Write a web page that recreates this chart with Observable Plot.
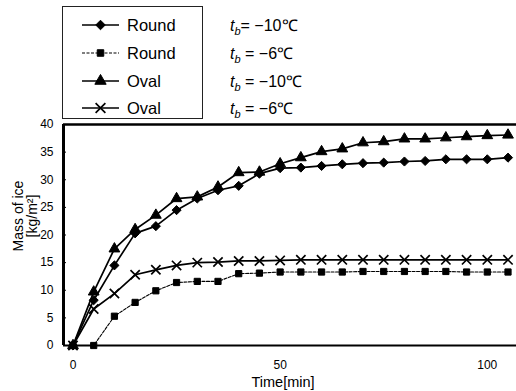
<!DOCTYPE html>
<html>
<head>
<meta charset="utf-8">
<script src="https://cdn.jsdelivr.net/npm/d3@7"></script>
<script src="https://cdn.jsdelivr.net/npm/@observablehq/plot@0.6"></script>
<style>
  html, body { margin: 0; padding: 0; background: #fff; }
  body { width: 516px; height: 391px; overflow: hidden; font-family: "Liberation Sans", Arial, Helvetica, sans-serif; color: #000; }
  #legend { position: relative; height: 121px; }
  #legend .box { position: absolute; left: 62px; top: 6px; width: 141px; height: 113px; border: 1px solid #222; box-sizing: border-box; }
  #legend .row { position: absolute; left: 82px; height: 20px; display: flex; align-items: center; }
  #legend .name { font-size: 16.5px; margin-left: 7px; }
  #legend .temp { position: absolute; left: 230px; font-size: 16px; white-space: pre; }
  #legend .temp i { font-style: italic; }
  #legend .temp sub { font-size: 11px; font-style: italic; vertical-align: -4px; }
  #chart svg { display: block; }
</style>
</head>
<body>
<div id="legend"><div class="box"></div></div>
<div id="chart"></div>
<script>
// ---- data ----
const time = [0, 5, 10, 15, 20, 25, 30, 35, 40, 45, 50, 55, 60, 65, 70, 75, 80, 85, 90, 95, 100, 105];
const roundMinus10 = [0, 8.2, 14.5, 20.3, 21.6, 24.5, 26.6, 28.1, 28.9, 31.1, 32.1, 32.2, 32.5, 32.8, 33.0, 33.1, 33.3, 33.4, 33.7, 33.7, 33.7, 34.0];
const roundMinus6  = [0, 0, 5.3, 7.8, 9.9, 11.4, 11.6, 11.6, 13.0, 13.1, 13.3, 13.3, 13.3, 13.3, 13.4, 13.4, 13.4, 13.4, 13.4, 13.3, 13.3, 13.3];
const ovalMinus10  = [0, 9.7, 17.5, 21.0, 23.6, 26.6, 26.9, 28.7, 31.3, 31.4, 32.9, 34.0, 35.1, 35.6, 36.7, 36.9, 37.4, 37.4, 37.6, 37.8, 38.0, 38.1];
const ovalMinus6   = [0, 6.6, 9.4, 12.8, 13.7, 14.5, 15.0, 15.1, 15.3, 15.3, 15.4, 15.5, 15.5, 15.5, 15.5, 15.5, 15.5, 15.5, 15.5, 15.5, 15.5, 15.5];
const seriesShapes = ["Round", "Round", "Oval", "Oval"];
const seriesTemps = ["= −10℃", " = −6℃", " = −10℃", " = −6℃"];
const yTicks = [0, 5, 10, 15, 20, 25, 30, 35, 40];
const xTicks = [0, 50, 100];
const xLabel = "Time[min]";
const yLabel = "Mass of ice\n[kg/m²]";

// ---- series styling ----
const seriesValues = [roundMinus10, roundMinus6, ovalMinus10, ovalMinus6];
const styles = [
  {symbol: "diamond2", r: 4.1, fill: "black", stroke: "black", strokeWidth: 1, line: 1.7, dash: null},
  {symbol: "square",   r: 3.5, fill: "black", stroke: "black", strokeWidth: 1, line: 1.1, dash: "3,1.5"},
  {symbol: "triangle", r: 4.0, fill: "black", stroke: "black", strokeWidth: 1, line: 1.7, dash: null},
  {symbol: "times",    r: 4.3, fill: "none",  stroke: "black", strokeWidth: 1.7, line: 1.7, dash: null}
];
const series = seriesValues.map((vals, k) => time.map((t, i) => ({t, v: vals[i], k})));

// ---- legend ----
const legend = document.getElementById("legend");
const rowY = [25, 53, 81, 108];
const symbolMap = {diamond2: d3.symbolDiamond2, square: d3.symbolSquare, triangle: d3.symbolTriangle, times: d3.symbolTimes};
seriesShapes.forEach((name, k) => {
  const s = styles[k];
  const row = document.createElement("div");
  row.className = "row";
  row.style.top = (rowY[k] - 10) + "px";
  const rr = s.r * 1.05;
  const path = d3.symbol(symbolMap[s.symbol], rr * rr * Math.PI)();
  row.innerHTML =
    `<svg width="38" height="20"><line x1="0" x2="37" y1="10" y2="10" stroke="black" stroke-width="${s.line}" ${s.dash ? `stroke-dasharray="${s.dash}"` : ""}/>` +
    `<path transform="translate(18.5,10)" d="${path}" fill="${s.fill}" stroke="${s.stroke}" stroke-width="${s.strokeWidth}"/></svg>` +
    `<span class="name">${name}</span>`;
  legend.appendChild(row);
  const temp = document.createElement("div");
  temp.className = "temp";
  temp.style.top = (rowY[k] - 11) + "px";
  temp.innerHTML = `<i>t</i><sub>b</sub>${seriesTemps[k]}`;
  legend.appendChild(temp);
});

// ---- chart ----
const xDomain = [-2.29, 107.05];
const marks = [
  Plot.axisY({ticks: yTicks, tickSize: 0, tickPadding: 10, label: null, fontSize: 12}),
  Plot.axisY({ticks: yTicks, tickSize: 3, tickFormat: () => "", label: null, dx: 3}),
  Plot.axisX({ticks: xTicks, tickSize: 0, tickPadding: 15, label: null, fontSize: 12}),
  Plot.ruleX([xDomain[0]], {stroke: "black", strokeWidth: 3}),
  Plot.ruleY([0], {stroke: "black", strokeWidth: 2.2}),
  Plot.ruleY([yTicks[yTicks.length - 1]], {stroke: "black", strokeWidth: 2.5})
];
series.forEach((data, k) => {
  const s = styles[k];
  marks.push(Plot.line(data, {x: "t", y: "v", stroke: "black", strokeWidth: s.line, strokeDasharray: s.dash ?? undefined}));
});
series.forEach((data, k) => {
  const s = styles[k];
  marks.push(Plot.dot(data, {x: "t", y: "v", symbol: () => s.symbol, r: s.r, fill: s.fill, stroke: s.stroke, strokeWidth: s.strokeWidth}));
});
marks.push(Plot.text([yLabel], {frameAnchor: "left", textAnchor: "middle", lineAnchor: "middle", text: d => d, rotate: -90, dx: -38, dy: -19, fontSize: 14, lineHeight: 1, fill: "black"}));
marks.push(Plot.text([xLabel], {frameAnchor: "bottom", text: d => d, dx: -7, dy: 41, fontSize: 14.5, fill: "black"}));

const chart = Plot.plot({
  width: 516,
  height: 270,
  marginLeft: 63,
  marginRight: 0,
  marginTop: 3,
  marginBottom: 46,
  x: {domain: xDomain},
  y: {domain: [0, 40]},
  symbol: {type: "identity"},
  style: {fontFamily: '"Liberation Sans", Arial, Helvetica, sans-serif', fontSize: "12px", color: "black", background: "white", overflow: "visible"},
  marks
});
document.getElementById("chart").appendChild(chart);
</script>
</body>
</html>
